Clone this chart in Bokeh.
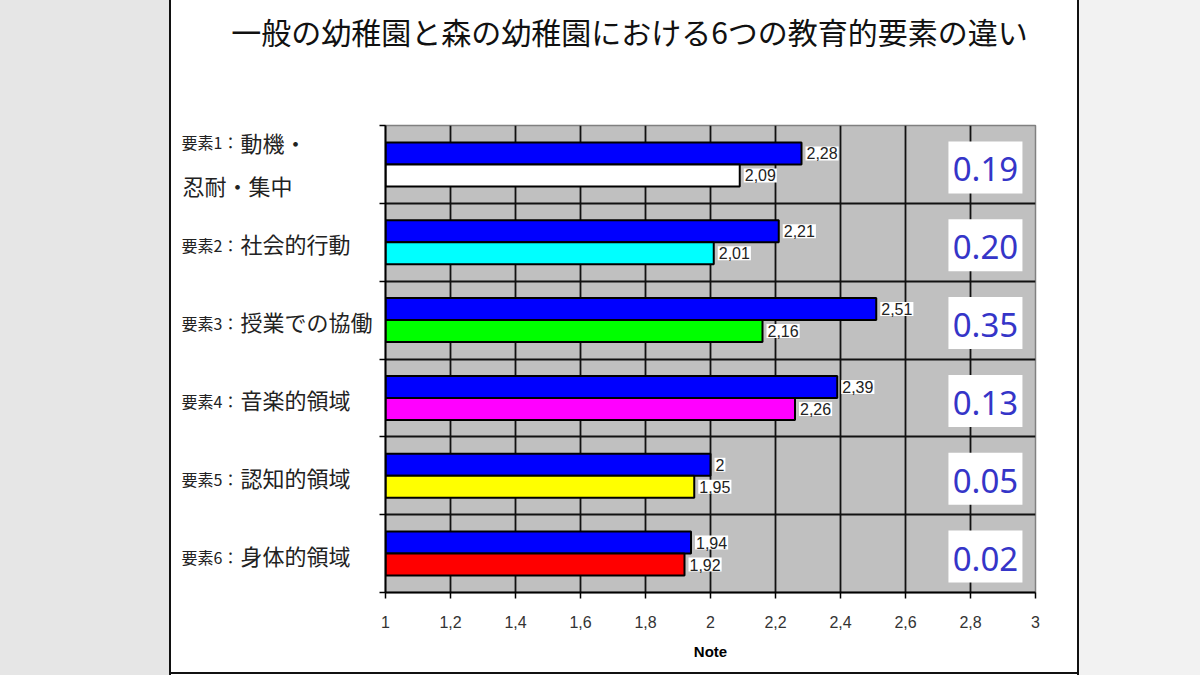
from bokeh.plotting import figure
from bokeh.models import Range1d, FixedTicker, CustomJSTickFormatter, Div
from bokeh.layouts import row, column
from bokeh.embed import file_html
from bokeh.resources import INLINE
from bokeh.core.properties import value

# ---------------- data ----------------
title_text = "一般の幼稚園と森の幼稚園における6つの教育的要素の違い"
element_prefixes = ["要素1：", "要素2：", "要素3：", "要素4：", "要素5：", "要素6："]
element_names = ["動機・\n忍耐・集中", "社会的行動", "授業での協働", "音楽的領域", "認知的領域", "身体的領域"]
forest_values = [2.28, 2.21, 2.51, 2.39, 2.00, 1.94]
general_values = [2.09, 2.01, 2.16, 2.26, 1.95, 1.92]
forest_labels = ["2,28", "2,21", "2,51", "2,39", "2", "1,94"]
general_labels = ["2,09", "2,01", "2,16", "2,26", "1,95", "1,92"]
difference_labels = ["0.19", "0.20", "0.35", "0.13", "0.05", "0.02"]
general_colors = ["#ffffff", "#00ffff", "#00ff00", "#ff00ff", "#ffff00", "#ff0000"]
tick_values = [1.0, 1.2, 1.4, 1.6, 1.8, 2.0, 2.2, 2.4, 2.6, 2.8, 3.0]
tick_labels = ["1", "1,2", "1,4", "1,6", "1,8", "2", "2,2", "2,4", "2,6", "2,8", "3"]
x_axis_title = "Note"

# ---------------- layout ----------------
TOTAL_H = 675
SIDE_L, SIDE_R = 171, 123
CENTER_W = 1200 - SIDE_L - SIDE_R          # 906
TITLE_H = 110
BOTTOM_LINE = 3
CHART_H = TOTAL_H - TITLE_H - BOTTOM_LINE  # 562
LABELS_W = 208
MAIN_W = CENTER_W - LABELS_W               # 698
FL, FR, FT, FB = 0, 42, 15, 80
X0, X1 = 1.0, 3.0
n = len(forest_values)
frame_h = CHART_H - FT - FB
ypx = frame_h / n

CJK = "Noto Sans CJK JP"
ARIAL = "Liberation Sans"
TXT = "#222222"

# ---------------- main chart ----------------
p = figure(width=MAIN_W, height=CHART_H, x_range=Range1d(X0, X1), y_range=Range1d(0, n),
           toolbar_location=None, output_backend="svg",
           min_border_left=FL, min_border_right=FR, min_border_top=FT, min_border_bottom=FB,
           background_fill_color="#c0c0c0", border_fill_color="white",
           outline_line_color="#808080", outline_line_width=1.5)

centers = [n - i - 0.5 for i in range(n)]
bar_h = 22 / ypx
blue_y = [c + bar_h / 2 for c in centers]
gen_y = [c - bar_h / 2 for c in centers]

p.hbar(y=blue_y, left=X0, right=forest_values, height=bar_h,
       fill_color="#0000ff", line_color="black", line_width=2)
p.hbar(y=gen_y, left=X0, right=general_values, height=bar_h,
       fill_color=general_colors, line_color="black", line_width=2)

label_common = dict(x_offset=4, text_baseline="middle", text_align="left",
                    text_font=value(ARIAL), text_font_size="16px", text_color=TXT,
                    background_fill_color="white", padding=1)
p.text(x=forest_values, y=blue_y, text=forest_labels, **label_common)
p.text(x=general_values, y=gen_y, text=general_labels, **label_common)

# difference boxes
box_x = 2.846
p.rect(x=[box_x] * n, y=[c - 3 / ypx for c in centers], width=74, height=52,
       width_units="screen", height_units="screen", fill_color="white", line_color=None)
p.text(x=[box_x] * n, y=[c - 5 / ypx for c in centers], text=difference_labels,
       text_align="center", text_baseline="middle", text_font=value("Noto Sans"),
       text_font_size="33px", text_color="#3535c8")

# axes
p.xaxis.ticker = FixedTicker(ticks=tick_values)
p.xaxis.formatter = CustomJSTickFormatter(args=dict(vals=tick_values, labs=tick_labels), code="""
let b = 0;
for (let i = 0; i < vals.length; i++) { if (Math.abs(vals[i] - tick) < Math.abs(vals[b] - tick)) b = i; }
return labs[b];
""")
p.xaxis.axis_label = x_axis_title
p.xaxis.axis_label_text_font = ARIAL
p.xaxis.axis_label_text_font_style = "bold"
p.xaxis.axis_label_text_font_size = "15px"
p.xaxis.axis_label_text_color = "black"
p.xaxis.axis_label_standoff = 12
p.xaxis.major_label_text_font = ARIAL
p.xaxis.major_label_text_font_size = "16px"
p.xaxis.major_label_text_color = "#333333"
p.xaxis.major_label_standoff = 17
for ax in (p.xaxis, p.yaxis):
    ax.axis_line_color = "black"
    ax.axis_line_width = 2
    ax.major_tick_line_color = "black"
    ax.major_tick_line_width = 1.5
    ax.major_tick_out = 6
    ax.major_tick_in = 0
    ax.minor_tick_line_color = None
p.yaxis.ticker = FixedTicker(ticks=list(range(n + 1)))
p.yaxis.formatter = CustomJSTickFormatter(code="return '';")
p.yaxis.major_label_standoff = 0

p.xgrid.ticker = FixedTicker(ticks=tick_values[1:-1])
p.ygrid.ticker = FixedTicker(ticks=list(range(1, n)))
for g in (p.xgrid, p.ygrid):
    g.grid_line_color = "#111111"
    g.grid_line_width = 1.8

# ---------------- category labels (share y scale) ----------------
lab = figure(width=LABELS_W, height=CHART_H, x_range=Range1d(0, LABELS_W), y_range=p.y_range,
             toolbar_location=None, output_backend="svg", min_border=0,
             min_border_top=FT, min_border_bottom=FB,
             x_axis_type=None, y_axis_type=None, background_fill_color="white",
             border_fill_color="white", outline_line_color=None)
lab.grid.visible = False
pre_y, name_x, name_y, name_t = [], [], [], []
for i, name in enumerate(element_names):
    lines = name.split("\n")
    c = centers[i]
    if len(lines) == 2:
        pre_y.append(c + 22 / ypx)
        name_x += [69, 11]
        name_y += [c + 22 / ypx, c - 21 / ypx]
        name_t += lines
    else:
        pre_y.append(c - 3 / ypx)
        name_x.append(69)
        name_y.append(c - 1 / ypx)
        name_t.append(lines[0])
lab.text(x=[67] * n, y=pre_y, text=element_prefixes, text_align="right", text_baseline="middle",
         text_font=value(CJK), text_font_size="16px", text_color=TXT)
lab.text(x=name_x, y=name_y, text=name_t, text_align="left", text_baseline="middle",
         text_font=value(CJK), text_font_size="22px", text_color=TXT)

# ---------------- title ----------------
tf = figure(width=CENTER_W, height=TITLE_H, x_range=Range1d(0, CENTER_W), y_range=Range1d(TITLE_H, 0),
            toolbar_location=None, output_backend="svg", min_border=0,
            x_axis_type=None, y_axis_type=None, background_fill_color="white",
            border_fill_color="white", outline_line_color=None)
tf.grid.visible = False
tf.text(x=[458], y=[30], text=[title_text], text_align="center", text_baseline="middle",
        text_font=value(CJK), text_font_size="30px", text_color="#111111")

# ---------------- slide frame ----------------
left = Div(text="", width=SIDE_L, height=TOTAL_H, margin=0,
           styles={"background-color": "#e6e6e6", "border-right": "2px solid #111111",
                   "box-sizing": "border-box"})
right = Div(text="", width=SIDE_R, height=TOTAL_H, margin=0,
            styles={"background-color": "#f2f2f2", "border-left": "2px solid #111111",
                    "box-sizing": "border-box"})
bottom = Div(text="", width=CENTER_W, height=BOTTOM_LINE, margin=0,
             styles={"background-color": "white", "border-top": "2px solid #111111",
                     "box-sizing": "border-box"})

center = column(tf, row(lab, p, spacing=0), bottom, spacing=0)
layout = row(left, center, right, spacing=0)
open("out.html", "w").write(file_html(layout, INLINE))
